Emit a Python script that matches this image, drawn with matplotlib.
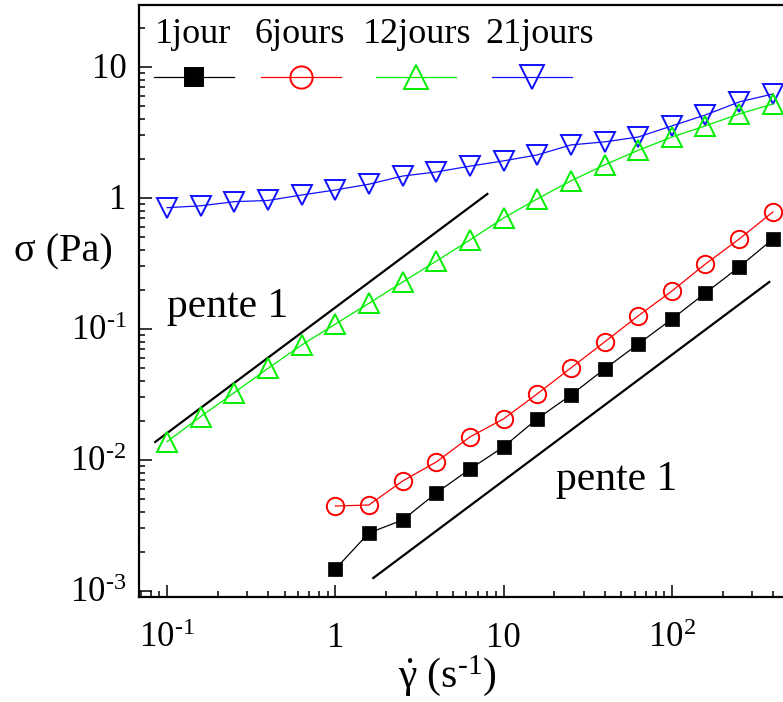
import matplotlib
matplotlib.use("Agg")
import matplotlib.pyplot as plt
from matplotlib.transforms import ScaledTranslation

plt.rcParams['font.family'] = ['Liberation Serif', 'DejaVu Serif']
plt.rcParams['mathtext.fontset'] = 'custom'
plt.rcParams['mathtext.rm'] = 'Liberation Serif'
plt.rcParams['mathtext.it'] = 'Liberation Serif'
plt.rcParams['mathtext.bf'] = 'Liberation Serif:bold'

# ---- data ----
x_short = [1, 1.58, 2.51, 3.98, 6.31, 10, 15.8, 25.1, 39.8, 63.1, 100, 158, 251, 398]
x_long = [0.1, 0.158, 0.251, 0.398, 0.631, 1, 1.58, 2.51, 3.98, 6.31, 10, 15.8,
          25.1, 39.8, 63.1, 100, 158, 251, 398]

y_1jour = [1.47e-3, 2.77e-3, 3.48e-3, 5.60e-3, 8.53e-3, 1.26e-2, 2.06e-2, 3.13e-2,
           4.95e-2, 7.68e-2, 0.119, 0.188, 0.297, 0.486]
y_6jours = [4.45e-3, 4.53e-3, 6.91e-3, 9.66e-3, 1.50e-2, 2.06e-2, 3.19e-2, 5.04e-2,
            7.96e-2, 0.126, 0.195, 0.313, 0.486, 0.782]
y_12jours = [0.0138, 0.0214, 0.0327, 0.0501, 0.0755, 0.109, 0.157, 0.228, 0.330,
             0.478, 0.704, 0.983, 1.35, 1.79, 2.31, 2.92, 3.55, 4.38, 5.22]
y_21jours = [0.843, 0.871, 0.937, 0.957, 1.054, 1.151, 1.273, 1.47, 1.58, 1.75,
             1.92, 2.13, 2.54, 2.68, 2.92, 3.55, 4.30, 5.41, 6.22]

series_names = ['1jour', '6jours', '12jours', '21jours']

# slope-1 guide lines (end points)
guide_left_x = [0.0849, 8.0]
guide_left_y = [0.01372, 1.073]
guide_right_x = [1.68, 379]
guide_right_y = [1.256e-3, 0.2285]

xticks = [0.1, 1, 10, 100]
xticklabels = [r'$10^{\text{-1}}$', '1', '10', r'$10^{2}$']
yticks = [1e-3, 1e-2, 1e-1, 1, 10]
yticklabels = [r'$10^{\text{-3}}$', r'$10^{\text{-2}}$', r'$10^{\text{-1}}$', '1', '10']

# ---- figure ----
fig = plt.figure(figsize=(7.83, 7.02), dpi=100)
ax = fig.add_axes([139/783, 105/702, 644/783, 592/702])
ax.set_xscale('log')
ax.set_yscale('log')
ax.set_xlim(10**-1.167, 10**2.66)
ax.set_ylim(10**-3.046, 10**1.473)

lw = 0.9
mew = 1.4
ax.plot(guide_left_x, guide_left_y, color='black', lw=1.6)
ax.plot(guide_right_x, guide_right_y, color='black', lw=1.6)

ax.plot(x_long, y_21jours, color='#1010ff', lw=lw, marker='v', ms=14, mfc='none',
        mec='#1010ff', mew=mew)
ax.plot(x_long, y_12jours, color='#00ee00', lw=lw, marker='^', ms=14, mfc='none',
        mec='#00ee00', mew=mew)
ax.plot(x_short, y_6jours, color='#ff0000', lw=lw, marker='o', ms=12.5, mfc='none',
        mec='#ff0000', mew=mew)
ax.plot(x_short, y_1jour, color='black', lw=lw, marker='s', ms=10.5, mfc='black',
        mec='black', mew=0.5)

ax.text(0.1, 0.1235, 'pente 1', fontsize=30, ha='left', va='baseline')
ax.text(20.6, 5.9e-3, 'pente 1', fontsize=30, ha='left', va='baseline')

# manual legend (labels above markers)
leg_x = [194, 301, 416, 532]
leg_text_x = [193, 300, 417, 540]
leg_colors = ['black', '#ff0000', '#00ee00', '#1010ff']
leg_markers = ['s', 'o', '^', 'v']
leg_ms = [13.5, 16, 17, 17]
for name, cx, tx, c, m, ms in zip(series_names, leg_x, leg_text_x, leg_colors,
                                  leg_markers, leg_ms):
    fx = cx / 783
    fig.text(tx / 783, 1 - 43/702, name, fontsize=26, ha='center', va='baseline')
    fig.add_artist(plt.Line2D([(cx - 40)/783, (cx + 40)/783], [1 - 77/702, 1 - 77/702],
                              color=c, lw=lw, transform=fig.transFigure))
    fig.add_artist(plt.Line2D([fx], [1 - 77/702], color=c, marker=m, ms=ms,
                              mfc=('black' if m == 's' else 'none'), mec=c, mew=mew,
                              transform=fig.transFigure))

# spines & ticks
for s in ['left', 'bottom', 'top']:
    ax.spines[s].set_linewidth(1.6)
ax.spines['right'].set_visible(False)
ax.tick_params(which='both', direction='in', top=False, right=False, width=1.1)
ax.tick_params(which='major', length=9)
ax.tick_params(which='minor', length=4.5)
ax.tick_params(axis='x', which='major', pad=36, labelsize=25)
ax.tick_params(axis='y', which='major', pad=9, labelsize=25)

ax.set_xticks(xticks, xticklabels)
ax.set_yticks(yticks, yticklabels)
for lab in ax.get_xticklabels():
    lab.set_verticalalignment('baseline')
for lab in ax.get_yticklabels():
    lab.set_verticalalignment('baseline')
    lab.set_transform(lab.get_transform() + ScaledTranslation(0, -11/100, fig.dpi_scale_trans))

ax.set_xlabel(r'$\dot{\gamma}$ (s$^{\text{-1}}$)', fontsize=30)
ax.xaxis.set_label_coords(0.478, -0.094)
ax.set_ylabel('σ (Pa)', fontsize=29, rotation=0, ha='center', va='center')
ax.yaxis.set_label_coords(-0.118, 0.583)

fig.savefig('out.png', dpi=100)
